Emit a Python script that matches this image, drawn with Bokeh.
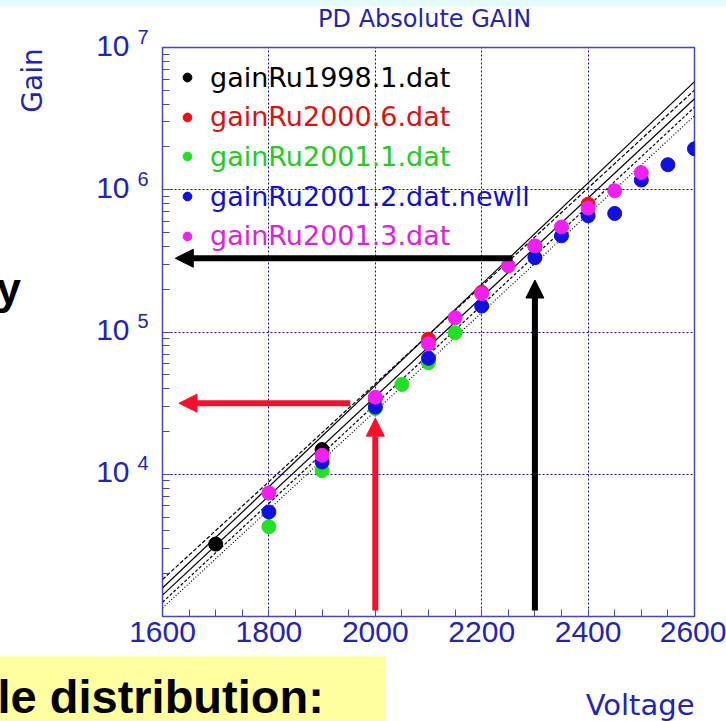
import math
from bokeh.plotting import figure
from bokeh.models import (Legend, LegendItem, Arrow, NormalHead,
                          SingleIntervalTicker, LogTicker, ColumnDataSource)
from bokeh.core.properties import value
from bokeh.embed import file_html
from bokeh.resources import INLINE

# ---------------- data ----------------
X_MIN, X_MAX = 1600, 2600
Y_MIN, Y_MAX = 1e3, 1e7

series_names = ["gainRu1998.1.dat", "gainRu2000.6.dat", "gainRu2001.1.dat",
                "gainRu2001.2.dat.newll", "gainRu2001.3.dat"]

v_1998_1 = [1700, 1900]
g_1998_1 = [3230, 14900]

v_2000_6 = [2000, 2100, 2200, 2300, 2400]
g_2000_6 = [34000, 89000, 190000, 400000, 792000]

v_2001_1 = [1800, 1900, 2000, 2050, 2100, 2150]
g_2001_1 = [4280, 10600, 29000, 42800, 60800, 98800]

v_2001_2 = [1800, 1900, 2000, 2100, 2200, 2300, 2350, 2400, 2450, 2500, 2550, 2600]
g_2001_2 = [5430, 12200, 29700, 65300, 152000, 333000, 474000, 656000, 681000,
            1170000, 1500000, 1940000]

v_2001_3 = [1800, 1900, 2000, 2100, 2150, 2200, 2250, 2300, 2350, 2400, 2450, 2500]
g_2001_3 = [7390, 13600, 34800, 82700, 126000, 186000, 292000, 403000, 548000,
            743000, 984000, 1320000]

# fitted lines: log10(gain) at the two ends of the voltage range
fit_v = [1600, 2600]
fit_solid_a = [3.20, 6.76]
fit_solid_b = [3.15, 6.64]
fit_dash_up = [3.26, 6.70]
fit_dash_lo = [3.10, 6.58]
fit_dot_lo = [3.06, 6.52]

# arrows (voltage, gain) start -> end
arrow_black_h_v = [2258, 1624]
arrow_black_h_g = [3.3e5, 3.3e5]
arrow_black_v_v = [2300, 2300]
arrow_black_v_g = [1.1e3, 2.32e5]
arrow_red_h_v = [1953, 1631]
arrow_red_h_g = [3.16e4, 3.16e4]
arrow_red_v_v = [2000, 2000]
arrow_red_v_g = [1.1e3, 2.48e4]

x_tick_interval = 200
y_tick_exps = [4, 5, 6, 7]

# ---------------- styles ----------------
AX_BLUE = "#2424b4"
GRID_BLUE = "#10108c"
FRAME_BLUE = "#4646c0"
colors = ["#000000", "#ee1111", "#22e022", "#1010e0", "#f020f0"]
text_colors = ["#000000", "#dd1111", "#22cc22", "#1010d0", "#e020e0"]
ARROW_RED = "#f5102e"

W, H = 726, 721
ML, MR, MT, MB = 162, 32, 47, 105
FW, FH = W - ML - MR, H - MT - MB
LOG_MIN, LOG_MAX = math.log10(Y_MIN), math.log10(Y_MAX)


def px2x(px):
    """canvas pixel column -> voltage, through the same linear map as the x scale"""
    return X_MIN + (px - ML) / FW * (X_MAX - X_MIN)


def py2y(py):
    """canvas pixel row -> gain, through the same log map as the y scale"""
    return 10 ** (LOG_MAX - (py - MT) / FH * (LOG_MAX - LOG_MIN))


p = figure(width=W, height=H, x_range=(X_MIN, X_MAX), y_range=(Y_MIN, Y_MAX),
           y_axis_type="log", output_backend="svg", toolbar_location=None,
           min_border_left=ML, min_border_right=MR, min_border_top=MT, min_border_bottom=MB)
p.background_fill_color = "white"
p.border_fill_color = "white"
p.outline_line_color = FRAME_BLUE
p.outline_line_width = 1.5

# slide decorations behind everything outside the frame
p.quad(left=[px2x(-5)], right=[px2x(385)], top=[py2y(656)], bottom=[py2y(730)],
       fill_color="#ffffa0", line_color=None, level="overlay")
p.quad(left=[px2x(-5)], right=[px2x(W + 5)], top=[py2y(-5)], bottom=[py2y(6)],
       fill_color="#e6fbfd", line_color=None, level="overlay")

# axes
xa = p.xaxis[0]
xa.ticker = SingleIntervalTicker(interval=x_tick_interval, num_minor_ticks=4)
xa.major_tick_in = 7
xa.major_tick_out = 0
xa.minor_tick_in = 7
xa.minor_tick_out = 0
xa.axis_line_color = FRAME_BLUE
xa.major_tick_line_color = FRAME_BLUE
xa.minor_tick_line_color = FRAME_BLUE
xa.major_label_text_font = "Liberation Sans"
xa.major_label_text_font_size = "30px"
xa.major_label_text_color = AX_BLUE
xa.major_label_standoff = 5

ya = p.yaxis[0]
ya.ticker = LogTicker(num_minor_ticks=10)
ya.major_tick_in = 8
ya.major_tick_out = 0
ya.minor_tick_in = 7
ya.minor_tick_out = 0
ya.axis_line_color = FRAME_BLUE
ya.major_tick_line_color = FRAME_BLUE
ya.minor_tick_line_color = FRAME_BLUE
ya.major_label_text_font_size = "0px"
ya.major_label_text_color = None

p.xgrid.grid_line_color = GRID_BLUE
p.xgrid.grid_line_dash = "2 2"
p.xgrid.grid_line_width = 1
p.ygrid.grid_line_color = GRID_BLUE
p.ygrid.grid_line_dash = "2 2"
p.ygrid.grid_line_width = 1

# fit lines
for fit, dash in [(fit_solid_a, "solid"), (fit_solid_b, "solid"), (fit_dash_up, "4 2"),
                  (fit_dash_lo, "3 2"), (fit_dot_lo, "1 2")]:
    p.line(fit_v, [10.0 ** f for f in fit], line_color="black", line_width=1.2, line_dash=dash)

# data points
series = [(v_1998_1, g_1998_1), (v_2000_6, g_2000_6), (v_2001_1, g_2001_1),
          (v_2001_2, g_2001_2), (v_2001_3, g_2001_3)]
renderers = []
for (vx, gy), c in zip(series, colors):
    r = p.scatter(vx, gy, size=14, marker="circle", fill_color=c, line_color=c)
    renderers.append(r)

# legend: one single-item legend per series so that each text has its colour
row_h = 40
row_step = 39.7
for i, (name, r, tc) in enumerate(zip(series_names, renderers, text_colors)):
    leg = Legend(items=[LegendItem(label=name, renderers=[r])],
                 location=(14, FH - 10 - row_h - i * row_step),
                 border_line_color=None, background_fill_alpha=0,
                 padding=0, margin=0, spacing=0,
                 glyph_width=22, glyph_height=row_h, label_height=row_h,
                 label_standoff=12,
                 label_text_font="DejaVu Sans", label_text_font_size="27px",
                 label_text_color=tc)
    p.add_layout(leg)

# y tick labels 10^n
ysrc = ColumnDataSource(dict(x=[X_MIN] * len(y_tick_exps),
                             y=[10.0 ** e for e in y_tick_exps],
                             base=["10"] * len(y_tick_exps),
                             exp=[str(e) for e in y_tick_exps]))
p.text(x="x", y="y", text="base", source=ysrc, x_offset=-33, y_offset=-2,
       text_align="right", text_baseline="middle", text_font=value("Liberation Sans"),
       text_font_size="30px", text_color=AX_BLUE, level="overlay")
p.text(x="x", y="y", text="exp", source=ysrc, x_offset=-25, y_offset=-18,
       text_align="left", text_baseline="top", text_font=value("Liberation Sans"),
       text_font_size="20px", text_color=AX_BLUE, level="overlay")

# arrows
for vx, gy, c in [(arrow_black_h_v, arrow_black_h_g, "black"),
                  (arrow_black_v_v, arrow_black_v_g, "black"),
                  (arrow_red_h_v, arrow_red_h_g, ARROW_RED),
                  (arrow_red_v_v, arrow_red_v_g, ARROW_RED)]:
    p.add_layout(Arrow(x_start=vx[0], y_start=gy[0], x_end=vx[1], y_end=gy[1],
                       line_color=c, line_width=6,
                       end=NormalHead(size=18, fill_color=c, line_color=c, line_width=1)))


def add_text(px, py, txt, align, baseline, font, size, color, style="normal", angle=0.0):
    p.text(x=[px2x(px)], y=[py2y(py)], text=[txt], angle=angle,
           text_align=align, text_baseline=baseline, text_font=value(font),
           text_font_size=size, text_font_style=style, text_color=color, level="overlay")


# title, axis names and surrounding slide text
add_text(ML + FW / 2, 18, "PD Absolute  GAIN", "center", "alphabetic", "DejaVu Sans", "24px", AX_BLUE)
add_text(32, 80, "Gain", "center", "middle", "DejaVu Sans", "28px", AX_BLUE, angle=math.pi / 2)
add_text(ML + FW, 704, "Voltage", "right", "alphabetic", "DejaVu Sans", "29px", AX_BLUE)
add_text(-3, 696, "le distribution:", "left", "alphabetic", "Liberation Sans", "47px", "black", style="bold")
add_text(-4, 288, "y", "left", "alphabetic", "Liberation Sans", "44px", "black", style="bold")

open("out.html", "w").write(file_html(p, INLINE))
